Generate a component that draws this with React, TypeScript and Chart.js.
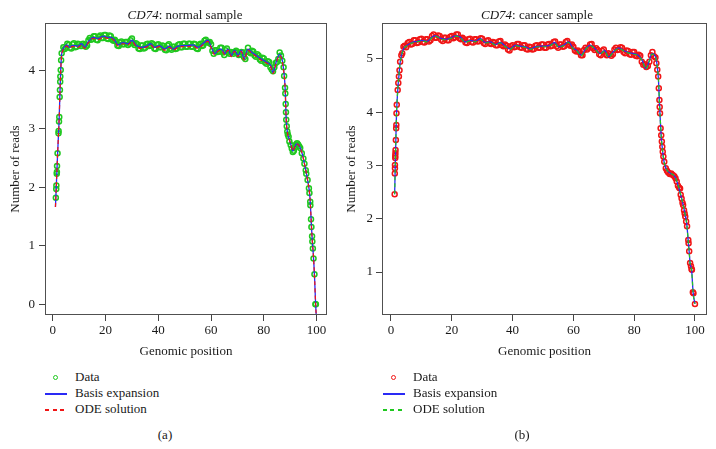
import React, { useEffect, useRef } from "react";
import { Chart, registerables } from "chart.js";

Chart.register(...registerables);

const SERIF = "'Liberation Serif', 'Times New Roman', serif";
const INK = "#1a1a1a";

// Shared x ticks (genomic position, percent of gene length)
const xTickValues = [0, 20, 40, 60, 80, 100];
const normalYTicks = [0, 1, 2, 3, 4];
const cancerYTicks = [1, 2, 3, 4, 5];

// ---------- CD74 normal sample ----------
const normalPos = [
  1.15, 1.3, 1.35, 1.5, 1.55, 1.6, 1.8, 2.15, 2.2, 2.35, 2.45, 2.6, 2.7, 2.8, 2.85, 3.0, 3.15, 3.35,
  4, 5, 6, 7, 8, 9, 10, 11, 12, 13, 14, 15, 16, 17, 18, 19, 20, 21, 22, 23, 24, 25, 26, 27, 28, 29,
  30, 31, 32, 33, 34, 35, 36, 37, 38, 39, 40, 41, 42, 43, 44, 45, 46, 47, 48, 49, 50, 51, 52, 53, 54,
  55, 56, 57, 58, 59, 60, 61, 62, 63, 64, 65, 66, 67, 68, 69, 70, 71, 72, 73, 74, 75, 76, 77, 78, 79,
  80, 81, 82, 83, 84, 85, 86, 87,
  87.5, 87.7, 88.05, 88.15, 88.3, 88.4, 88.5, 88.7, 88.9, 89.1, 89.4, 89.7, 90.2, 90.6, 91.0, 91.4,
  91.8, 92.2, 92.6, 93.0, 93.4, 93.8, 94.4, 95.0, 95.4, 95.9, 96.1, 96.6, 97.1, 97.3, 97.6, 97.65,
  97.9, 98.05, 98.3, 98.4, 98.6, 98.85, 99.2, 99.55, 99.75,
];
const normalReads = [
  1.82, 1.97, 2.03, 2.23, 2.26, 2.36, 2.58, 2.92, 2.96, 3.12, 3.2, 3.54, 3.66, 3.8, 3.89, 4.0, 4.17, 4.29,
  4.39, 4.38, 4.43, 4.37, 4.46, 4.4, 4.44, 4.41, 4.43, 4.42, 4.55, 4.53, 4.58, 4.51, 4.59, 4.55, 4.6,
  4.53, 4.58, 4.5, 4.49, 4.41, 4.49, 4.44, 4.48, 4.45, 4.54, 4.43, 4.44, 4.36, 4.42, 4.38, 4.45, 4.42,
  4.44, 4.36, 4.44, 4.39, 4.41, 4.34, 4.44, 4.35, 4.4, 4.37, 4.44, 4.39, 4.45, 4.4, 4.45, 4.4, 4.44,
  4.36, 4.45, 4.42, 4.52, 4.47, 4.44, 4.28, 4.34, 4.32, 4.38, 4.26, 4.37, 4.28, 4.3, 4.31, 4.3, 4.27,
  4.3, 4.19, 4.38, 4.29, 4.32, 4.23, 4.25, 4.16, 4.2, 4.11, 4.14, 4.01, 4.05, 4.14, 4.3, 4.16,
  4.05, 3.9, 3.7, 3.6, 3.42, 3.28, 3.15, 3.04, 2.95, 2.9, 2.86, 2.78, 2.72, 2.66, 2.6, 2.62,
  2.68, 2.73, 2.75, 2.73, 2.7, 2.67, 2.58, 2.49, 2.4, 2.29, 2.23, 2.12, 1.98, 1.9, 1.75, 1.69,
  1.45, 1.32, 1.16, 1.07, 0.95, 0.78, 0.51, 0.0, 0.0,
];
// reads between the integer positions along the plateau
const normalMidPos = [
  4.5, 5.5, 6.5, 7.5, 8.5, 9.5, 10.5, 11.5, 12.5, 13.5, 14.5, 15.5, 16.5, 17.5, 18.5, 19.5, 20.5,
  21.5, 22.5, 23.5, 24.5, 25.5, 26.5, 27.5, 28.5, 29.5, 30.5, 31.5, 32.5, 33.5, 34.5, 35.5, 36.5,
  37.5, 38.5, 39.5, 40.5, 41.5, 42.5, 43.5, 44.5, 45.5, 46.5, 47.5, 48.5, 49.5, 50.5, 51.5, 52.5,
  53.5, 54.5, 55.5, 56.5, 57.5, 58.5, 59.5, 60.5, 61.5, 62.5, 63.5, 64.5, 65.5, 66.5, 67.5, 68.5,
  69.5, 70.5, 71.5, 72.5, 73.5, 74.5, 75.5, 76.5, 77.5, 78.5, 79.5, 80.5, 81.5, 82.5, 83.5, 84.5,
  85.5, 86.5,
];
const normalMidReads = [
  4.36, 4.45, 4.38, 4.44, 4.39, 4.45, 4.41, 4.45, 4.4, 4.51, 4.52, 4.58, 4.52, 4.57, 4.55, 4.6, 4.54,
  4.59, 4.52, 4.52, 4.42, 4.47, 4.44, 4.48, 4.43, 4.51, 4.46, 4.46, 4.37, 4.42, 4.37, 4.44, 4.41,
  4.46, 4.37, 4.43, 4.39, 4.42, 4.35, 4.42, 4.37, 4.4, 4.36, 4.43, 4.39, 4.45, 4.4, 4.45, 4.4,
  4.45, 4.37, 4.43, 4.41, 4.5, 4.47, 4.48, 4.33, 4.34, 4.31, 4.38, 4.3, 4.34, 4.3, 4.31, 4.28,
  4.33, 4.26, 4.31, 4.22, 4.31, 4.31, 4.33, 4.25, 4.27, 4.18, 4.21, 4.13, 4.15, 4.05, 3.98, 4.12,
  4.19, 4.25,
];
const normalFitPos = [
  1.0, 1.4, 1.8, 2.1, 2.4, 2.7, 3.0, 3.3, 3.9, 4.5, 5.2, 6.4, 7.3, 8.3, 9.6, 10.9, 12.1, 13.4, 15.3,
  17.2, 19.1, 21.0, 22.2, 23.5, 24.7, 26.6, 28.5, 30.0, 31.7, 33.6, 35.5, 37.1, 38.6, 40.5, 42.4, 44.3,
  45.6, 47.5, 49.4, 51.2, 53.1, 55.0, 56.9, 58.8, 60.1, 61.4, 62.6, 63.9, 65.2, 66.4, 67.7, 68.9, 70.2,
  71.5, 72.5, 74.0, 75.3, 77.2, 79.0, 80.9, 82.6, 83.5, 84.7, 86.0, 86.9, 87.6, 88.1, 88.5, 89.0, 89.5,
  90.2, 91.0, 91.7, 92.4, 93.2, 93.9, 94.8, 95.5, 96.1, 96.6, 97.1, 97.5, 97.8, 98.1, 98.4, 98.7, 99.0,
  99.3, 99.6, 100.0,
];
const normalBasis = [
  1.66, 2.1, 2.55, 2.85, 3.15, 3.6, 4.0, 4.25, 4.36, 4.4, 4.43, 4.39, 4.42, 4.42, 4.41, 4.45, 4.39, 4.48, 4.56,
  4.54, 4.58, 4.56, 4.56, 4.51, 4.43, 4.47, 4.45, 4.51, 4.42, 4.39, 4.41, 4.45, 4.39, 4.42, 4.36, 4.41,
  4.36, 4.41, 4.42, 4.42, 4.43, 4.39, 4.45, 4.51, 4.39, 4.28, 4.34, 4.36, 4.28, 4.36, 4.25, 4.34, 4.25,
  4.34, 4.19, 4.36, 4.31, 4.25, 4.19, 4.14, 4.08, 3.96, 4.14, 4.27, 4.19, 3.97, 3.68, 3.15, 2.92, 2.84,
  2.74, 2.62, 2.68, 2.74, 2.72, 2.66, 2.53, 2.38, 2.25, 2.12, 1.99, 1.82, 1.58, 1.3, 1.07, 0.9, 0.68,
  0.4, 0.05, -0.3,
];
const normalOde = [
  1.66, 2.1, 2.55, 2.85, 3.15, 3.6, 3.98, 4.23, 4.34, 4.38, 4.41, 4.37, 4.4, 4.4, 4.39, 4.43, 4.37, 4.46, 4.54,
  4.52, 4.56, 4.54, 4.54, 4.49, 4.41, 4.45, 4.43, 4.49, 4.4, 4.37, 4.39, 4.43, 4.37, 4.4, 4.34, 4.39,
  4.34, 4.39, 4.4, 4.4, 4.41, 4.37, 4.43, 4.49, 4.37, 4.26, 4.32, 4.34, 4.26, 4.34, 4.23, 4.32, 4.23,
  4.32, 4.17, 4.34, 4.29, 4.23, 4.17, 4.12, 4.06, 3.94, 4.12, 4.25, 4.17, 3.96, 3.68, 3.15, 2.92, 2.84,
  2.74, 2.62, 2.68, 2.74, 2.72, 2.66, 2.53, 2.38, 2.25, 2.12, 1.99, 1.82, 1.58, 1.3, 1.07, 0.9, 0.68,
  0.4, 0.05, -0.3,
];

// ---------- CD74 cancer sample ----------
const cancerPos = [
  1.2, 1.25, 1.3, 1.3, 1.4, 1.4, 1.45, 1.5, 1.6, 1.7, 1.75, 1.8, 1.9, 2.2, 2.4, 2.6, 2.8, 3.0, 3.4, 3.7, 4.1,
  5, 6, 7, 8, 9, 10, 11, 12, 13, 14, 15, 16, 17, 18, 19, 20, 21, 22, 23, 24, 25, 26, 27, 28, 29, 30,
  31, 32, 33, 34, 35, 36, 37, 38, 39, 40, 41, 42, 43, 44, 45, 46, 47, 48, 49, 50, 51, 52, 53, 54, 55,
  56, 57, 58, 59, 60, 61, 62, 63, 64, 65, 66, 67, 68, 69, 70, 71, 72, 73, 74, 75, 76, 77, 78, 79, 80,
  81, 82, 83, 84, 85, 86, 87,
  87.3, 87.6, 87.9, 88.1, 88.3, 88.4, 88.5, 88.7, 88.9, 89.1, 89.25, 89.4, 89.6, 89.9, 90.4, 90.8,
  91.2, 91.7, 92.2, 92.7, 93.2, 93.6, 94.0, 94.4, 94.8, 95.1, 95.3, 95.6, 95.9, 96.1, 96.4, 96.6,
  96.8, 97.1, 97.4, 97.8, 97.9, 98.1, 98.4, 98.7, 98.9, 99.0, 99.3, 99.5, 100.0,
];
const cancerReads = [
  2.46, 2.85, 2.95, 3.01, 3.14, 3.18, 3.23, 3.29, 3.48, 3.7, 3.76, 3.98, 4.14, 4.42, 4.55, 4.67, 4.79,
  4.95, 5.07, 5.11, 5.23,
  5.22, 5.32, 5.28, 5.35, 5.31, 5.38, 5.31, 5.37, 5.35, 5.46, 5.4, 5.43, 5.34, 5.4, 5.35, 5.43, 5.41,
  5.46, 5.37, 5.37, 5.3, 5.38, 5.31, 5.37, 5.34, 5.38, 5.28, 5.35, 5.28, 5.31, 5.26, 5.34, 5.24, 5.25,
  5.16, 5.26, 5.23, 5.28, 5.21, 5.26, 5.18, 5.22, 5.19, 5.26, 5.21, 5.27, 5.21, 5.28, 5.25, 5.33, 5.21,
  5.27, 5.24, 5.34, 5.25, 5.23, 5.14, 5.13, 5.07, 5.21, 5.21, 5.28, 5.17, 5.17, 5.07, 5.18, 5.07, 5.09,
  5.09, 5.21, 5.18, 5.21, 5.11, 5.15, 5.08, 5.13, 5.05, 5.06, 4.89, 4.85, 4.95, 5.13, 5.03,
  4.92, 4.8, 4.67, 4.45, 4.23, 4.1, 3.98, 3.7, 3.57, 3.45, 3.35, 3.26, 3.17, 3.07, 2.95, 2.9,
  2.87, 2.84, 2.85, 2.82, 2.8, 2.76, 2.7, 2.62, 2.58, 2.57, 2.45, 2.38, 2.3, 2.26, 2.16, 2.1,
  2.04, 1.95, 1.86, 1.6, 1.54, 1.39, 1.17, 1.11, 1.05, 1.04, 0.62, 0.6, 0.4,
];
const cancerMidPos = [
  4.5, 5.5, 6.5, 7.5, 8.5, 9.5, 10.5, 11.5, 12.5, 13.5, 14.5, 15.5, 16.5, 17.5, 18.5, 19.5, 20.5,
  21.5, 22.5, 23.5, 24.5, 25.5, 26.5, 27.5, 28.5, 29.5, 30.5, 31.5, 32.5, 33.5, 34.5, 35.5, 36.5,
  37.5, 38.5, 39.5, 40.5, 41.5, 42.5, 43.5, 44.5, 45.5, 46.5, 47.5, 48.5, 49.5, 50.5, 51.5, 52.5,
  53.5, 54.5, 55.5, 56.5, 57.5, 58.5, 59.5, 60.5, 61.5, 62.5, 63.5, 64.5, 65.5, 66.5, 67.5, 68.5,
  69.5, 70.5, 71.5, 72.5, 73.5, 74.5, 75.5, 76.5, 77.5, 78.5, 79.5, 80.5, 81.5, 82.5, 83.5, 84.5,
  85.5, 86.5,
];
const cancerMidReads = [
  5.25, 5.3, 5.27, 5.35, 5.3, 5.37, 5.32, 5.37, 5.33, 5.43, 5.4, 5.44, 5.36, 5.4, 5.35, 5.42, 5.39,
  5.46, 5.39, 5.4, 5.31, 5.37, 5.32, 5.37, 5.33, 5.39, 5.3, 5.34, 5.29, 5.32, 5.26, 5.33, 5.26,
  5.27, 5.18, 5.24, 5.22, 5.28, 5.22, 5.26, 5.19, 5.23, 5.18, 5.25, 5.21, 5.27, 5.21, 5.27, 5.24,
  5.32, 5.24, 5.27, 5.23, 5.32, 5.27, 5.27, 5.16, 5.16, 5.07, 5.17, 5.18, 5.27, 5.2, 5.2, 5.09,
  5.15, 5.1, 5.11, 5.06, 5.18, 5.17, 5.22, 5.13, 5.16, 5.09, 5.13, 5.06, 5.08, 4.95, 4.9, 4.87,
  5.07, 5.05,
];
const cancerFitPos = [
  1.2, 1.5, 1.8, 2.2, 2.6, 3.0, 3.5, 4.2, 5.3, 6.9, 8.6, 10.2, 11.8, 13.5, 14.6, 16.2, 17.9, 19.5,
  21.2, 22.8, 24.4, 26.1, 27.7, 29.4, 31.0, 32.7, 34.3, 36.0, 37.6, 39.2, 40.9, 42.5, 44.2, 45.8, 47.5,
  49.1, 50.8, 52.4, 53.8, 55.2, 56.8, 58.4, 59.8, 61.2, 62.6, 63.9, 65.6, 67.2, 68.8, 70.3, 71.6, 73.2,
  74.9, 76.5, 78.2, 79.8, 81.3, 82.6, 83.9, 84.8, 85.9, 87.0, 87.5, 88.0, 88.3, 88.6, 88.9, 89.4, 89.9,
  90.7, 91.8, 93.4, 94.5, 95.3, 96.0, 96.7, 97.3, 97.8, 98.1, 98.4, 98.9, 99.4, 100.0,
];
const cancerBasis = [
  2.46, 3.25, 3.95, 4.4, 4.68, 4.93, 5.08, 5.2, 5.26, 5.31, 5.33, 5.35, 5.33, 5.41, 5.44, 5.39, 5.37, 5.39,
  5.44, 5.41, 5.32, 5.35, 5.33, 5.38, 5.31, 5.32, 5.27, 5.31, 5.24, 5.19, 5.26, 5.24, 5.23, 5.19, 5.23,
  5.24, 5.24, 5.26, 5.31, 5.23, 5.26, 5.32, 5.21, 5.16, 5.07, 5.18, 5.26, 5.19, 5.1, 5.16, 5.04, 5.14,
  5.21, 5.16, 5.12, 5.1, 5.07, 4.98, 4.82, 4.94, 5.1, 5.05, 4.9, 4.6, 4.2, 3.85, 3.55, 3.25, 3.05,
  2.92, 2.86, 2.79, 2.62, 2.45, 2.29, 2.1, 1.9, 1.57, 1.38, 1.16, 1.04, 0.61, 0.4,
];
const cancerOde = [
  2.46, 3.25, 3.95, 4.4, 4.68, 4.92, 5.07, 5.19, 5.25, 5.3, 5.32, 5.34, 5.32, 5.4, 5.43, 5.38, 5.36, 5.38,
  5.43, 5.4, 5.31, 5.34, 5.32, 5.37, 5.3, 5.31, 5.26, 5.3, 5.23, 5.18, 5.25, 5.23, 5.22, 5.18, 5.22,
  5.23, 5.23, 5.25, 5.3, 5.22, 5.25, 5.31, 5.2, 5.15, 5.06, 5.17, 5.25, 5.18, 5.09, 5.15, 5.03, 5.13,
  5.2, 5.15, 5.11, 5.09, 5.06, 4.97, 4.81, 4.93, 5.09, 5.04, 4.9, 4.6, 4.2, 3.85, 3.55, 3.25, 3.05,
  2.92, 2.86, 2.79, 2.62, 2.45, 2.29, 2.1, 1.9, 1.57, 1.38, 1.16, 1.04, 0.61, 0.4,
];

const GREEN = "#1fc81f";
const RED = "#f01515";
const BLUE = "#2a2af5";

const plotBox = {
  id: "plotBox",
  afterDraw(chart: any) {
    const { ctx, chartArea: a } = chart;
    ctx.save();
    ctx.strokeStyle = "#505050";
    ctx.lineWidth = 1;
    ctx.strokeRect(a.left + 0.5, a.top + 0.5, a.right - a.left - 1, a.bottom - a.top - 1);
    ctx.restore();
  },
};

type PanelProps = {
  left: number;
  width: number;
  height: number;
  axisWidth: number;
  padRight: number;
  yTitlePad: number;
  yLabelPad: number;
  yMin: number;
  yMax: number;
  yTicks: number[];
  pos: number[];
  reads: number[];
  midPos: number[];
  midReads: number[];
  fitPos: number[];
  basis: number[];
  ode: number[];
  dataColor: string;
  odeColor: string;
};

const pts = (xs: number[], ys: number[]) => xs.map((x, i) => ({ x, y: ys[i] }));

function Panel(p: PanelProps) {
  const ref = useRef<HTMLCanvasElement | null>(null);
  useEffect(() => {
    if (!ref.current) return;
    const font = { family: SERIF, size: 13 };
    const tickGrid = { drawOnChartArea: false, drawTicks: true, tickLength: 6, color: "#444", lineWidth: 1 };
    const chart = new Chart(ref.current, {
      type: "scatter",
      data: {
        datasets: [
          {
            label: "Data",
            data: pts(p.pos, p.reads).concat(pts(p.midPos, p.midReads)),
            showLine: false,
            pointRadius: 2.5,
            pointBorderWidth: 1.5,
            pointBorderColor: p.dataColor,
            pointBackgroundColor: "rgba(0,0,0,0)",
            order: 3,
          },
          {
            label: "Basis expansion",
            data: pts(p.fitPos, p.basis),
            showLine: true,
            borderColor: BLUE,
            borderWidth: 1.3,
            pointRadius: 0,
            cubicInterpolationMode: "monotone",
            order: 2,
          },
          {
            label: "ODE solution",
            data: pts(p.fitPos, p.ode),
            showLine: true,
            borderColor: p.odeColor,
            borderWidth: 1.2,
            borderDash: [4, 3],
            pointRadius: 0,
            cubicInterpolationMode: "monotone",
            order: 1,
          },
        ],
      } as any,
      options: {
        responsive: false,
        animation: false,
        events: [],
        layout: { padding: { top: 23, right: p.padRight, left: 0, bottom: 0 } },
        plugins: { legend: { display: false }, tooltip: { enabled: false }, title: { display: false } },
        scales: {
          x: {
            type: "linear",
            min: -2.96,
            max: 103.96,
            afterBuildTicks: (s: any) => {
              s.ticks = xTickValues.map((v) => ({ value: v }));
            },
            afterFit: (s: any) => {
              s.height = p.height - 315;
            },
            grid: tickGrid,
            border: { display: false },
            ticks: { font, color: INK, padding: 2, maxRotation: 0, autoSkip: false },
            title: { display: true, text: "Genomic position", font, color: INK, padding: { top: 0, bottom: 3 } },
          },
          y: {
            type: "linear",
            min: p.yMin,
            max: p.yMax,
            afterBuildTicks: (s: any) => {
              s.ticks = p.yTicks.map((v) => ({ value: v }));
            },
            afterFit: (s: any) => {
              s.width = p.axisWidth;
            },
            grid: tickGrid,
            border: { display: false },
            ticks: { font, color: INK, padding: p.yLabelPad, autoSkip: false },
            title: { display: true, text: "Number of reads", font, color: INK, padding: { top: p.yTitlePad, bottom: 0 } },
          },
        },
      } as any,
      plugins: [plotBox],
    });
    return () => chart.destroy();
  }, []);
  return (
    <canvas
      ref={ref}
      width={p.width}
      height={p.height}
      style={{ position: "absolute", left: p.left, top: 0, width: p.width, height: p.height }}
    />
  );
}

const textStyle: React.CSSProperties = {
  position: "absolute",
  fontFamily: SERIF,
  fontSize: 13,
  color: INK,
  whiteSpace: "nowrap",
  height: 16,
  lineHeight: "16px",
};

function Legend({ x0, textX, dataColor, odeColor }: { x0: number; textX: number; dataColor: string; odeColor: string }) {
  return (
    <>
      <div
        style={{
          position: "absolute",
          left: x0 + 8,
          top: 374.5,
          width: 3,
          height: 3,
          borderRadius: "50%",
          border: `1.3px solid ${dataColor}`,
        }}
      />
      <div style={{ position: "absolute", left: x0, top: 392.5, width: 22, height: 2, background: BLUE }} />
      <div
        style={{
          position: "absolute",
          left: x0,
          top: 408.5,
          width: 22,
          height: 2,
          backgroundImage: `repeating-linear-gradient(90deg, ${odeColor} 0 4px, transparent 4px 7.5px)`,
        }}
      />
      <div style={{ ...textStyle, left: textX, top: 369 }}>Data</div>
      <div style={{ ...textStyle, left: textX, top: 385 }}>Basis expansion</div>
      <div style={{ ...textStyle, left: textX, top: 401 }}>ODE solution</div>
    </>
  );
}

function Centered({ cx, cy, children }: { cx: number; cy: number; children: React.ReactNode }) {
  return <div style={{ ...textStyle, left: cx - 100, width: 200, textAlign: "center", top: cy - 8 }}>{children}</div>;
}

export default function App() {
  return (
    <div style={{ position: "absolute", left: 0, top: 0, width: 716, height: 449, background: "#fff", overflow: "hidden" }}>
      <Panel
        left={0}
        width={358}
        height={362}
        axisWidth={45}
        padRight={31}
        yTitlePad={8}
        yLabelPad={4}
        yMin={-0.185}
        yMax={4.805}
        yTicks={normalYTicks}
        pos={normalPos}
        reads={normalReads}
        midPos={normalMidPos}
        midReads={normalMidReads}
        fitPos={normalFitPos}
        basis={normalBasis}
        ode={normalOde}
        dataColor={GREEN}
        odeColor={RED}
      />
      <Panel
        left={330}
        width={386}
        height={362}
        axisWidth={52}
        padRight={9}
        yTitlePad={14}
        yLabelPad={3}
        yMin={0.1925}
        yMax={5.676}
        yTicks={cancerYTicks}
        pos={cancerPos}
        reads={cancerReads}
        midPos={cancerMidPos}
        midReads={cancerMidReads}
        fitPos={cancerFitPos}
        basis={cancerBasis}
        ode={cancerOde}
        dataColor={RED}
        odeColor={GREEN}
      />
      <Centered cx={185} cy={15}>
        <i>CD74</i>: normal sample
      </Centered>
      <Centered cx={537} cy={15}>
        <i>CD74</i>: cancer sample
      </Centered>
      <Legend x0={45} textX={75} dataColor={GREEN} odeColor={RED} />
      <Legend x0={383} textX={413} dataColor={RED} odeColor={GREEN} />
      <Centered cx={165} cy={435}>(a)</Centered>
      <Centered cx={522} cy={435}>(b)</Centered>
    </div>
  );
}
